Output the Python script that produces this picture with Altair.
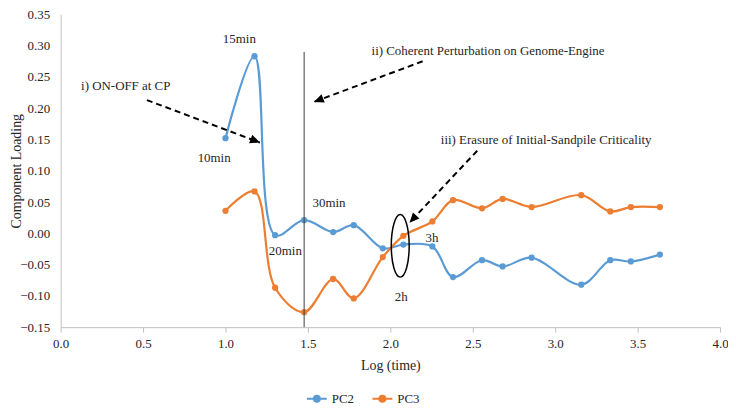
import altair as alt
import pandas as pd

# ---- data ----
log_time = [1.000, 1.176, 1.301, 1.477, 1.653, 1.778, 1.954, 2.079, 2.255,
            2.380, 2.556, 2.681, 2.857, 3.158, 3.334, 3.459, 3.635]
pc2 = [0.152, 0.283, -0.003, 0.021, 0.002, 0.013, -0.024, -0.018, -0.021,
       -0.070, -0.043, -0.053, -0.039, -0.082, -0.043, -0.045, -0.034]
pc3 = [0.036, 0.067, -0.087, -0.126, -0.073, -0.104, -0.038, -0.004, 0.019,
       0.053, 0.040, 0.055, 0.042, 0.061, 0.035, 0.042, 0.042]
series_names = ["PC2", "PC3"]
series_colors = ["#5B9BD5", "#ED7D31"]

x_ticks = [0.0, 0.5, 1.0, 1.5, 2.0, 2.5, 3.0, 3.5, 4.0]
y_ticks = [-0.15, -0.10, -0.05, 0.0, 0.05, 0.10, 0.15, 0.20, 0.25, 0.30, 0.35]

# point labels
label_text = ["15min", "10min", "30min", "20min", "3h", "2h"]
label_x = [1.084, 0.931, 1.628, 1.363, 2.252, 2.066]
label_y = [0.310, 0.121, 0.048, -0.029, -0.008, -0.102]

# annotations
note_text = ["i) ON-OFF at CP",
             "ii) Coherent Perturbation on Genome-Engine",
             "iii) Erasure of Initial-Sandpile Criticality"]
note_x = [0.124, 1.886, 2.306]
note_y = [0.235, 0.291, 0.149]

# arrows (start -> tip)
arrow_x0 = [0.523, 2.196, 2.527]
arrow_y0 = [0.213, 0.275, 0.132]
arrow_x1 = [1.209, 1.536, 2.116]
arrow_y1 = [0.145, 0.210, 0.017]
arrow_angle = [111, 249, 223]

# vertical marker line at 30 min
vline_x = [1.477]
vline_top = [0.290]
vline_bottom = [-0.15]

# ellipse around the 2h crossing
ellipse_x = [2.060]
ellipse_y = [-0.020]

FONT = "Liberation Serif"
TXT = "#262626"

rows = []
for xv, a, b in zip(log_time, pc2, pc3):
    rows.append({"x": xv, "y": a, "series": "PC2"})
    rows.append({"x": xv, "y": b, "series": "PC3"})
df = pd.DataFrame(rows)

xscale = alt.Scale(domain=[0, 4], nice=False, zero=False)
yscale = alt.Scale(domain=[-0.15, 0.35], nice=False, zero=False)

x_enc = alt.X("x:Q", scale=xscale, title="Log (time)",
              axis=alt.Axis(values=x_ticks, format=".1f", grid=False, tickCount=20,
                            domainColor="#BFBFBF", tickColor="#BFBFBF", tickSize=5,
                            labelFont=FONT, labelFontSize=13, labelColor=TXT,
                            labelPadding=5, labelOverlap=False, labelFlush=False,
                            titleFont=FONT, titleFontSize=14,
                            titleFontWeight="normal", titleColor=TXT, titlePadding=9))
y_enc = alt.Y("y:Q", scale=yscale, title="Component Loading",
              axis=alt.Axis(values=y_ticks, format=".2f", grid=False, ticks=False,
                            tickCount=20,
                            domainColor="#BFBFBF", labelFont=FONT, labelFontSize=13,
                            labelColor=TXT, labelPadding=11, labelOverlap=False,
                            labelFlush=False, titleFont=FONT,
                            titleFontSize=14, titleFontWeight="normal",
                            titleColor=TXT, titleX=-37, titleBaseline="bottom"))

cscale = alt.Scale(domain=series_names, range=series_colors)

legend_shape = "M-1,0L1,0M-0.3,0A0.3,0.3 0 1,0 0.3,0A0.3,0.3 0 1,0 -0.3,0Z"
leg = alt.Legend(title=None, orient="none", legendX=247, legendY=376,
                 direction="horizontal",
                 symbolType=legend_shape, symbolSize=400,
                 symbolStrokeWidth=2, labelFont=FONT, labelFontSize=13,
                 labelColor=TXT, labelOffset=4, columnPadding=14)

lines = alt.Chart(df).mark_line(interpolate="catmull-rom", strokeWidth=2.2).encode(
    x=x_enc, y=y_enc,
    color=alt.Color("series:N", scale=cscale, legend=leg),
    detail="series:N",
)

points = alt.Chart(df).mark_point(filled=True, size=40, opacity=1).encode(
    x="x:Q", y="y:Q",
    color=alt.Color("series:N", scale=cscale, legend=leg),
)

vdf = pd.DataFrame({"x": vline_x, "y": vline_top, "y2": vline_bottom})
vline = alt.Chart(vdf).mark_rule(color="#404040", strokeWidth=1).encode(
    x="x:Q", y="y:Q", y2="y2:Q")

ldf = pd.DataFrame({"x": label_x, "y": label_y, "t": label_text})
labels = alt.Chart(ldf).mark_text(font=FONT, fontSize=13, color=TXT).encode(
    x="x:Q", y="y:Q", text="t:N")

ndf = pd.DataFrame({"x": note_x, "y": note_y, "t": note_text})
notes = alt.Chart(ndf).mark_text(font=FONT, fontSize=13, color=TXT, align="left").encode(
    x="x:Q", y="y:Q", text="t:N")

adf = pd.DataFrame({"x": arrow_x0, "y": arrow_y0, "x2": arrow_x1, "y2": arrow_y1,
                    "ang": arrow_angle})
arrow_lines = alt.Chart(adf).mark_rule(color="black", strokeWidth=2,
                                       strokeDash=[6, 4]).encode(
    x="x:Q", y="y:Q", x2="x2:Q", y2="y2:Q")
arrow_heads = alt.Chart(adf).mark_point(
    shape="M0,0L0.45,1L-0.45,1Z", size=400, filled=True, color="black", opacity=1
).encode(x=alt.X("x2:Q"), y=alt.Y("y2:Q"), angle=alt.Angle("ang:Q", scale=None))

edf = pd.DataFrame({"x": ellipse_x, "y": ellipse_y})
ellipse = alt.Chart(edf).mark_point(
    shape="M-0.286,0A0.286,1 0 1,0 0.286,0A0.286,1 0 1,0 -0.286,0Z",
    size=3969, filled=False, color="black", strokeWidth=1.5, opacity=1
).encode(x="x:Q", y="y:Q")

chart = alt.layer(lines, points, vline, labels, notes, arrow_lines, arrow_heads,
                  ellipse).properties(
    width=664, height=315, autosize="none",
    padding={"left": 53, "top": 5, "right": 8, "bottom": 80},
).configure_view(stroke=None)

chart.save("out.html", embed_options={"renderer": "svg", "actions": False})
